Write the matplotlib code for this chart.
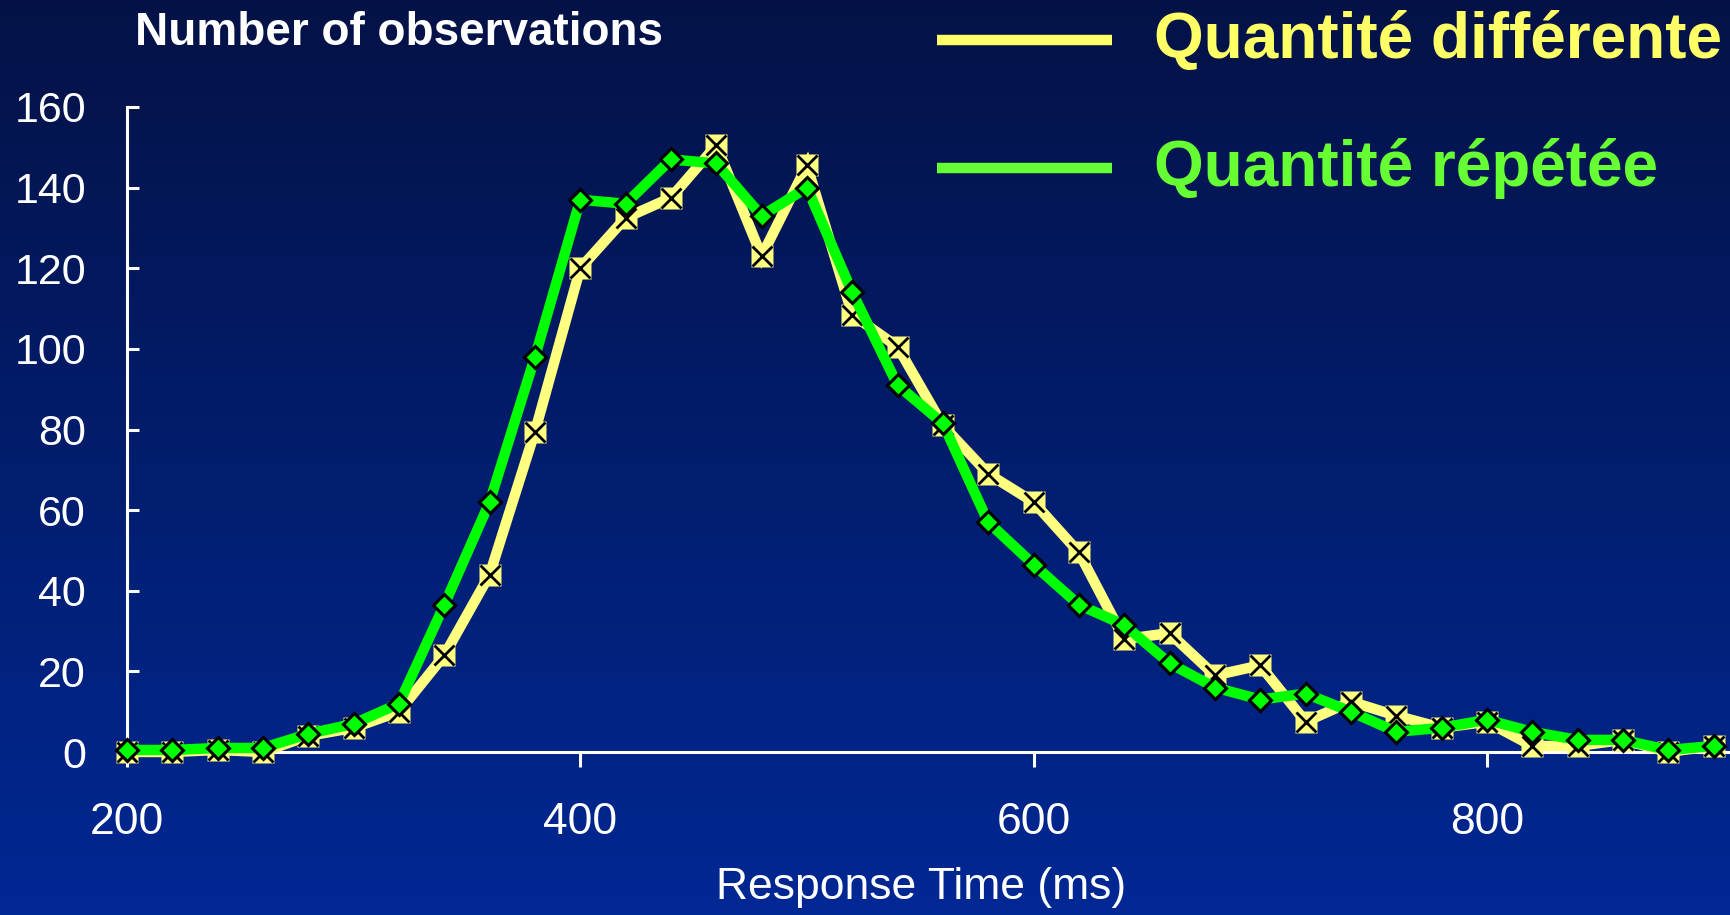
import numpy as np, matplotlib
matplotlib.use("Agg"); import matplotlib.pyplot as plt
from matplotlib.lines import Line2D

plt.rcParams['font.family'] = ['Liberation Sans', 'DejaVu Sans']

# response time bins (ms)
rt = [200, 220, 240, 260, 280, 300, 320, 340, 360, 380, 400, 420, 440, 460, 480, 500, 520, 540,
      560, 580, 600, 620, 640, 660, 680, 700, 720, 740, 760, 780, 800, 820, 840, 860, 880, 900]
# number of observations
diff_qty = [0, 0, 0.5, 0, 4, 6, 10, 24, 44, 79.5, 120, 132.5, 137.5, 150.5, 123, 145.5, 108.5, 100.5,
            81, 69, 62, 49.5, 28, 29.5, 19, 21.5, 7.5, 12.5, 9, 6, 7.5, 1.5, 1.5, 3, 0, 1.5]
rep_qty = [0.5, 0.5, 1, 1, 4.5, 7, 12, 36.5, 62, 98, 137, 136, 147, 146, 133, 140, 114, 91,
           81.5, 57, 46.5, 36.5, 31.5, 22, 16, 13, 14.5, 10, 5, 6, 8, 5, 3, 3, 0.5, 1.5]
xticks = [200, 400, 600, 800]
yticks = [0, 20, 40, 60, 80, 100, 120, 140, 160]
labels = ["Quantité différente", "Quantité répétée"]

W, H = 1731, 915
fig = plt.figure(figsize=(W/100, H/100), dpi=100)

# vertical gradient background
bg = fig.add_axes([0, 0, 1, 1], zorder=-10)
top = np.array([4, 18, 70]) / 255; bot = np.array([0, 40, 148]) / 255
t = np.linspace(0, 1, 256)[:, None]
grad = (top[None, :] * (1 - t) + bot[None, :] * t)[:, None, :]
bg.imshow(grad, aspect='auto', extent=[0, 1, 0, 1]); bg.axis('off')

ax = fig.add_axes([127/W, 1-752/H, 1-127/W, (752-107)/H])
ax.set_facecolor('none')
yel = '#ffff80'; grn = '#00ff00'
ax.plot(rt, diff_qty, '-', color=yel, lw=7.5, zorder=3, clip_on=False, solid_joinstyle='miter')
ax.plot(rt, diff_qty, 's', color=yel, ms=16, mec='none', zorder=4, clip_on=False)
ax.plot(rt, diff_qty, 'x', color='black', ms=15, mew=2.0, zorder=5, clip_on=False)
ax.plot(rt, rep_qty, '-', color=grn, lw=7.5, zorder=6, clip_on=False, solid_joinstyle='miter')
ax.plot(rt, rep_qty, 'D', color=grn, ms=11, mec='black', mew=2.2, zorder=7, clip_on=False)

ax.set_xlim(200, 200 + (W-127)/45.33*20)
ax.set_ylim(0, 160)
ax.set_xticks(xticks); ax.set_yticks(yticks)
for s in ['top', 'right']: ax.spines[s].set_visible(False)
for s in ['left', 'bottom']:
    ax.spines[s].set_color('white'); ax.spines[s].set_linewidth(2.2)
ax.tick_params(axis='y', direction='in', length=8.6, width=2.2, colors='white', labelsize=31, pad=29.5)
ax.tick_params(axis='x', direction='out', length=10.8, width=2.2, colors='white', labelsize=32, pad=25)
ax.set_xlabel("Response Time (ms)", color='white', fontsize=32)
ax.xaxis.set_label_coords((921-127)/(W-127), -(888-752)/(752-107))
ax.xaxis.label.set_va('center')

fig.text(135/W, 1-33/H, "Number of observations", color='white', fontsize=33,
         fontweight='bold', ha='left', va='center')

# legend drawn by hand
leg_cols = ['#ffff66', '#66ff33']
for i, (lab, c) in enumerate(zip(labels, leg_cols)):
    ly = [40, 168][i]; by = [58, 186][i]
    fig.add_artist(Line2D([937/W, 1112/W], [1-ly/H, 1-ly/H], color=c, lw=7.5,
                          solid_capstyle='butt', transform=fig.transFigure))
    fig.text(1154/W, 1-by/H, lab, color=c, fontsize=46, fontweight='bold',
             ha='left', va='baseline')

fig.savefig("out.png", dpi=100)
